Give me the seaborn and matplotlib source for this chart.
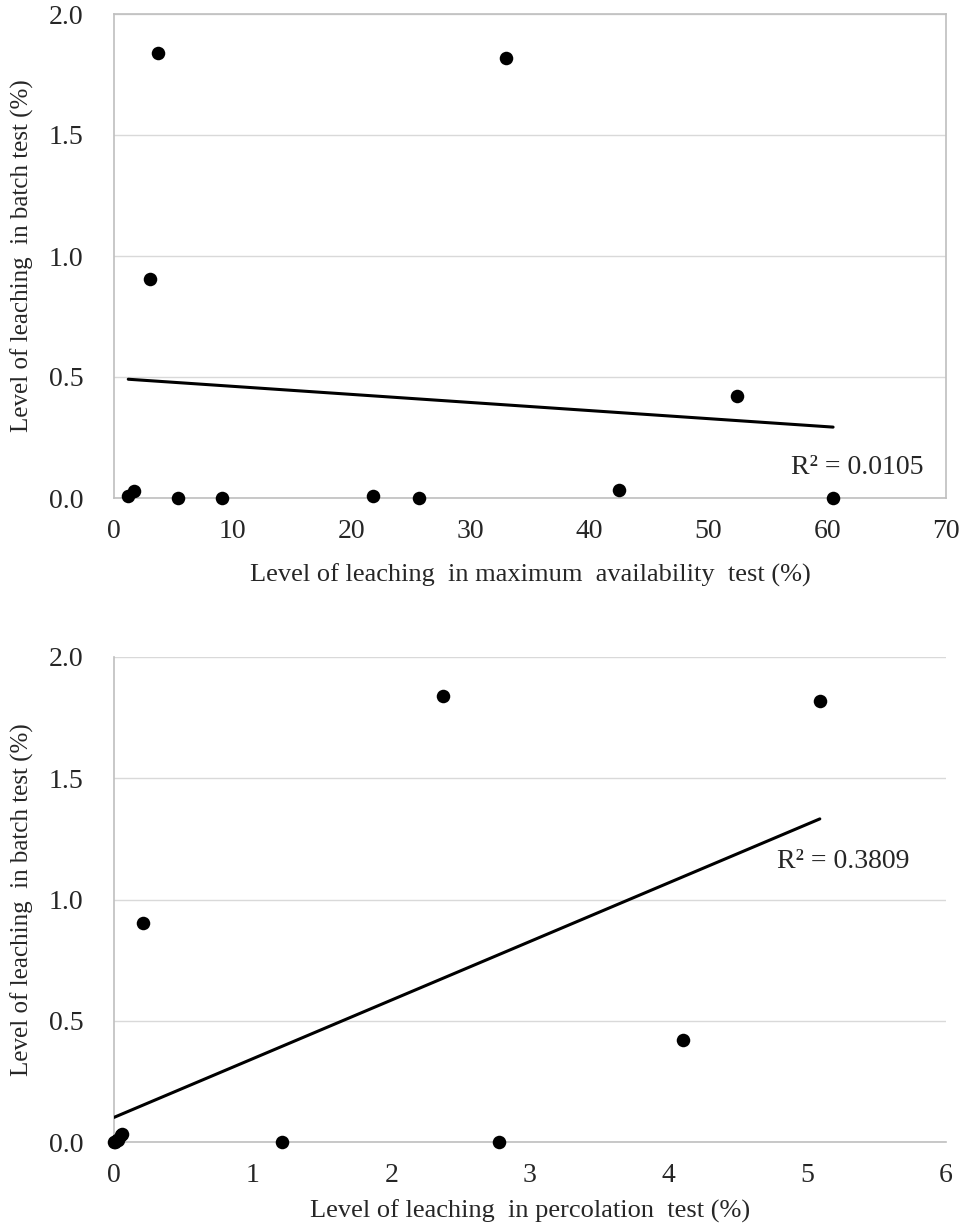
import numpy as np
import matplotlib.pyplot as plt
import seaborn as sns

# level of leaching in batch test (%), y for both panels
batch = [0.01, 0.03, 1.84, 0.905, 0.0, 0.0, 0.01, 0.0, 1.82, 0.035, 0.42, 0.0]
# level of leaching in maximum availability test (%)
max_avail = [1.2, 1.7, 3.7, 3.0, 5.4, 9.1, 21.8, 25.7, 33.0, 42.5, 52.4, 60.5]
# level of leaching in percolation test (%)
percol = [0.02, 0.05, 2.37, 0.21, 1.21, 0.01, 0.03, 2.78, 5.09, 0.06, 4.1, 0.0]

r2_labels = ["R² = 0.0105", "R² = 0.3809"]

sns.set_theme(style="white")
plt.rcParams['font.family'] = ['Liberation Serif', 'DejaVu Serif']

fig = plt.figure(figsize=(9.62, 12.31), dpi=100)
ax1 = fig.add_axes([114/962, 1 - 498/1231, 832/962, 484/1231])
ax2 = fig.add_axes([114/962, 1 - 1142/1231, 832/962, 485/1231])

panels = [
    (ax1, max_avail, (0, 70), 10, "Level of leaching  in maximum  availability  test (%)",
     True, (57.0, 0.124), -0.159),
    (ax2, percol, (0, 6), 1, "Level of leaching  in percolation  test (%)",
     False, (4.78, 1.155), -0.142),
]

for i, (ax, xs, xlim, step, xlabel, box, txt, xlab_y) in enumerate(panels):
    slope, icpt = np.polyfit(xs, batch, 1)
    xl = np.array([min(xs), max(xs)])
    ax.plot(xl, icpt + slope * xl, color='black', lw=2.2, zorder=3)
    sns.scatterplot(x=xs, y=batch, ax=ax, color='black', s=95, edgecolor='black',
                    linewidth=0, zorder=4, clip_on=False)
    ax.set_xlim(*xlim)
    ax.set_ylim(0, 2.0)
    ax.set_xticks(np.arange(xlim[0], xlim[1] + step / 2, step))
    ax.set_yticks([0, 0.5, 1.0, 1.5, 2.0])
    ax.set_yticklabels(["0.0", "0.5", "1.0", "1.5", "2.0"])
    ax.yaxis.grid(True, color='#d9d9d9', lw=1)
    ax.set_axisbelow(True)
    for side, sp in ax.spines.items():
        sp.set_color('#bfbfbf')
        sp.set_linewidth(1.2)
        if not box and side in ('top', 'right'):
            sp.set_visible(False)
    ax.tick_params(axis='x', labelsize=20, length=0, pad=15)
    ax.tick_params(axis='y', labelsize=20, length=0, pad=22)
    ax.set_xlabel(xlabel, fontsize=19, va='center')
    ax.xaxis.set_label_coords(0.5, xlab_y)
    ax.set_ylabel("Level of leaching  in batch test (%)", fontsize=18, va='center')
    ax.yaxis.set_label_coords(-0.1106, 0.5)
    ax.text(txt[0], txt[1], r2_labels[i], fontsize=20, ha='left', va='center')

fig.savefig("out.png", dpi=100)
